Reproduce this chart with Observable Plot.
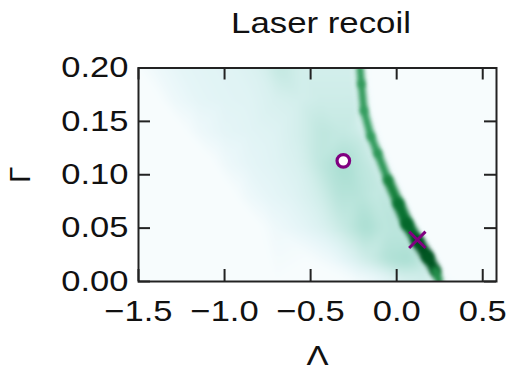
<!DOCTYPE html>
<html><head><meta charset="utf-8">
<script src="https://cdn.jsdelivr.net/npm/d3@7"></script>
<script src="https://cdn.jsdelivr.net/npm/@observablehq/plot@0.6"></script>
<style>
body{margin:0;background:#fff;font-family:"Liberation Sans",Arial,sans-serif;}
#wrap{position:relative;width:506px;height:365px;overflow:hidden;background:#fff;}
#title{position:absolute;top:8px;left:321px;font-size:30px;line-height:30px;white-space:nowrap;transform:translateX(-50%) scaleX(1.16);color:#111;}
#chart{position:absolute;top:48px;left:0;}
</style></head><body>
<div id="wrap"><div id="title">Laser recoil</div><div id="chart"></div></div>
<script>
// Axis ticks
const xTicks = [-1.5, -1.0, -0.5, 0.0, 0.5];
const yTicks = [0.00, 0.05, 0.10, 0.15, 0.20];

// Main (sharp) ridge of the density: position, intensity (0-10) and width (in Λ units)
const ridgeX = [-0.213, -0.205, -0.19, -0.15, -0.11, -0.05, 0.01, 0.06, 0.12, 0.18, 0.225, 0.245];
const ridgeY = [0.200, 0.185, 0.160, 0.136, 0.120, 0.095, 0.073, 0.054, 0.038, 0.023, 0.010, 0.001];
const ridgeV = [6.8, 7.1, 6.9, 6.9, 7.0, 7.2, 8.6, 8.4, 9.4, 9.8, 9, 6];
const ridgeW = [0.042, 0.042, 0.042, 0.044, 0.044, 0.047, 0.068, 0.068, 0.072, 0.072, 0.058, 0.038];
// Flanks of the ridge (same heights as ridgeY)
const rightFlankX = [-0.18, -0.172, -0.155, -0.11, -0.07, -0.005, 0.055, 0.11, 0.17, 0.23, 0.275, 0.29];
const rightFlankV = [0, 0, 0, 0, 0, 0, 0, 0, 0, 0, 0, 0];
const leftFlankX = [-0.25, -0.242, -0.225, -0.19, -0.15, -0.095, -0.035, 0.01, 0.07, 0.13, 0.175, 0.21];
const leftFlankV = [2.2, 2.2, 2.4, 2.4, 2.4, 2.6, 3, 3, 3, 3, 2.4, 1.8];

// Diffuse wedge samples
const fieldX = [-1.4, -1.25, -1.1, -0.95, -0.8, -0.68, -0.55, -0.42, -0.32,
                -1.3, -1.15, -1.0, -0.85, -0.7, -0.56, -0.44, -0.32,
                -1.15, -1.0, -0.85, -0.7, -0.56, -0.44, -0.32, -0.23,
                -1.0, -0.85, -0.7, -0.56, -0.44, -0.31, -0.2,
                -0.88, -0.75, -0.6, -0.46, -0.34, -0.22, -0.12,
                -0.7, -0.55, -0.42, -0.3, -0.18, -0.07,
                -0.38, -0.28, -0.17, -0.05, 0.06,
                -0.1, 0.05, 0.15];
const fieldY = [0.2, 0.2, 0.2, 0.2, 0.2, 0.2, 0.2, 0.2, 0.2,
                0.17, 0.17, 0.17, 0.17, 0.17, 0.17, 0.17, 0.17,
                0.14, 0.14, 0.14, 0.14, 0.14, 0.14, 0.14, 0.14,
                0.11, 0.11, 0.11, 0.11, 0.11, 0.11, 0.11,
                0.08, 0.08, 0.08, 0.08, 0.08, 0.08, 0.08,
                0.05, 0.05, 0.05, 0.05, 0.05, 0.05,
                0.02, 0.02, 0.02, 0.02, 0.02,
                0.0, 0.0, 0.0];
const fieldV = [0.6, 1.2, 1.4, 1.5, 1.8, 2.7, 2.1, 2.1, 2.1,
                0.6, 1.2, 1.4, 1.5, 1.9, 2.1, 2.3, 2.3,
                0.6, 1.2, 1.4, 1.6, 2.1, 2.8, 2.6, 2.4,
                0.6, 1.2, 1.5, 1.9, 2.8, 3.4, 2.8,
                0.5, 1.1, 1.5, 2.1, 3.0, 3.0, 2.6,
                0.6, 1.2, 1.8, 2.6, 3.4, 2.8,
                0.6, 1.4, 2.3, 3.2, 3.4,
                0.7, 1.8, 2.3];

// Empty background
const zeroX = [-1.5, -1.37, -1.22, -1.05, -0.93, -0.78, -0.5, -0.25, -1.5, -1.5, -1.0, -1.2, -0.7,
               -0.1, 0.1, 0.35, 0.58, 0.58, 0.58, 0.4, 0.35, 0.15, 0.35, 0.1, 0.2];
const zeroY = [0.2, 0.17, 0.14, 0.11, 0.08, 0.05, 0.02, 0.0, 0.0, 0.1, 0.0, 0.05, 0.0,
               0.2, 0.2, 0.2, 0.2, 0.1, 0.0, 0.0, 0.1, 0.13, 0.05, 0.11, 0.07];

// Markers
const circleX = [-0.31], circleY = [0.113];
const crossX = [0.12], crossY = [0.039];

const samples = [];
rightFlankX.forEach((x, i) => samples.push({x, y: ridgeY[i], v: rightFlankV[i]}));
leftFlankX.forEach((x, i) => samples.push({x, y: ridgeY[i], v: leftFlankV[i]}));
fieldX.forEach((x, i) => samples.push({x, y: fieldY[i], v: fieldV[i]}));
zeroX.forEach((x, i) => samples.push({x, y: zeroY[i], v: 0}));

const ridgeSegs = [];
for (let i = 0; i < ridgeX.length - 1; i++) {
  ridgeSegs.push({x1: ridgeX[i], y1: ridgeY[i], x2: ridgeX[i + 1], y2: ridgeY[i + 1],
                  v: (ridgeV[i] + ridgeV[i + 1]) / 2, w: (ridgeW[i] + ridgeW[i + 1]) / 2});
}

const circles = circleX.map((x, i) => ({x, y: circleY[i]}));
const crosses = crossX.map((x, i) => ({x, y: crossY[i]}));

const W = 506, H = 317, mT = 19.5, mB = 84, mL = 138, mR = 10;
const fw = W - mL - mR, fh = H - mT - mB;
const purple = "#800080", ink = "#222";
const xDomain = [-1.5, 0.58];
const xs = Plot.scale({x: {domain: xDomain, range: [mL, W - mR]}});
const pxPerUnit = xs.apply(1) - xs.apply(0);

const plot = Plot.plot({
  width: W, height: H,
  marginTop: mT, marginBottom: mB, marginLeft: mL, marginRight: mR,
  style: {fontFamily: "Liberation Sans, Arial, sans-serif", fontSize: "29px", color: "#111", background: "white", overflow: "visible"},
  x: {domain: xDomain, axis: null},
  y: {domain: [0, 0.2], axis: null},
  color: {type: "linear", scheme: "BuGn", domain: [0, 10], clamp: true},
  marks: [
    Plot.raster(samples, {x: "x", y: "y", fill: "v", interpolate: "barycentric", blur: 4}),
    Plot.link(ridgeSegs, {x1: "x1", y1: "y1", x2: "x2", y2: "y2", stroke: "v", clip: true,
                          strokeWidth: d => d.w * pxPerUnit, strokeLinecap: "round"}),
    Plot.dot(circles, {x: "x", y: "y", r: 6.3, stroke: purple, strokeWidth: 3.2, fill: "white"}),
    Plot.dot(crosses, {x: "x", y: "y", r: 7.5, symbol: "times", stroke: purple, strokeWidth: 3}),
    Plot.tickX(xTicks, {x: d => d, insetTop: fh - 12, stroke: ink, strokeWidth: 2}),
    Plot.tickX(xTicks, {x: d => d, insetBottom: fh - 12, stroke: ink, strokeWidth: 2}),
    Plot.tickY(yTicks, {y: d => d, insetRight: fw - 12, stroke: ink, strokeWidth: 2}),
    Plot.tickY(yTicks, {y: d => d, insetLeft: fw - 12, stroke: ink, strokeWidth: 2}),
    Plot.frame({stroke: ink, strokeWidth: 2}),
    Plot.axisX({ticks: xTicks, tickSize: 0, tickPadding: 19, tickFormat: d3.format(".1f"), label: null, fontSize: 29}),
    Plot.axisY({ticks: yTicks, tickSize: 0, tickPadding: 10, tickFormat: d3.format(".2f"), label: null, fontSize: 29}),
    Plot.text(["Γ"], {text: d => d, frameAnchor: "left", textAnchor: "middle", dx: -118, rotate: -90, fontSize: 29}),
    Plot.text(["Λ"], {text: d => d, frameAnchor: "bottom", textAnchor: "middle", dy: 64, lineAnchor: "top", fontSize: 29})
  ]
});
document.getElementById("chart").appendChild(plot);

// soften the ridge like the smoothed density
d3.select(plot).selectAll('g[aria-label="link"] line, g[aria-label="link"] path').style("filter", "blur(2px)");
// horizontal stretch of the text, as in the reference
const stretch = function() { return (this.getAttribute("transform") || "") + " scale(1.19,1)"; };
d3.select(plot).selectAll('g[aria-label="x-axis tick label"] text, g[aria-label="y-axis tick label"] text').attr("transform", stretch);
const textGroups = d3.select(plot).selectAll('g[aria-label="text"]').nodes();
if (textGroups.length) d3.select(textGroups[textGroups.length - 1]).selectAll("text").attr("transform", stretch);
</script></body></html>
